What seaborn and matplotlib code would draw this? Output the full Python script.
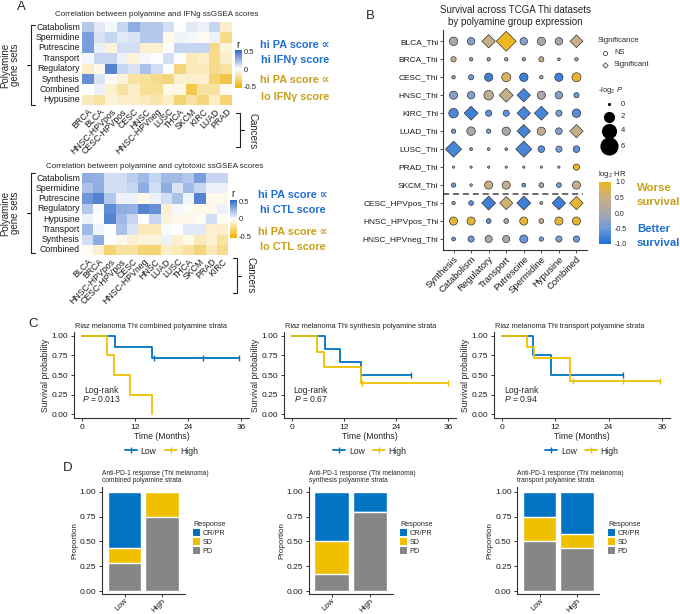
import numpy as np
import pandas as pd
import matplotlib
matplotlib.use("Agg")
import matplotlib.pyplot as plt
import seaborn as sns
from matplotlib.colors import LinearSegmentedColormap, Normalize
from matplotlib.cm import ScalarMappable
from matplotlib.lines import Line2D
from matplotlib.patches import Patch

sns.set_theme(style="ticks")
plt.rcParams["font.family"] = ["Liberation Sans", "DejaVu Sans"]
plt.rcParams["mathtext.fontset"] = "custom"
plt.rcParams["mathtext.rm"] = "Liberation Sans"
plt.rcParams["mathtext.it"] = "Liberation Sans:italic"
plt.rcParams["axes.unicode_minus"] = False

W, H = 680, 614
BLUE = "#0073C2"
GOLD = "#EFC000"
GREY = "#868686"
TXT_BLUE = "#1E6FD0"
TXT_GOLD = "#C9A014"

# ---- panel A data: correlation r values ----
ifng_rows = ["Catabolism", "Spermidine", "Putrescine", "Transport", "Regulatory",
             "Synthesis", "Combined", "Hypusine"]
ifng_cols = ["BRCA", "BLCA", "HNSC-HPVpos", "CESC-HPVpos", "CESC", "HNSC", "HNSC-HPVneg",
             "LUSC", "THCA", "SKCM", "KIRC", "LUAD", "PRAD"]
ifng_r = [
    [0.20, 0.08, 0.03, 0.15, 0.30, 0.20, 0.20, 0.12, 0.00, 0.08, 0.05, 0.15, -0.12],
    [0.35, 0.10, 0.15, 0.08, 0.10, 0.20, 0.20, -0.05, 0.04, 0.03, -0.03, 0.05, -0.25],
    [0.35, 0.06, -0.08, 0.12, 0.12, -0.10, -0.10, 0.00, 0.15, 0.15, 0.15, -0.25, -0.08],
    [0.03, 0.15, 0.15, 0.05, -0.08, 0.03, 0.00, 0.12, 0.00, -0.15, -0.12, -0.25, -0.12],
    [-0.12, -0.04, 0.45, 0.15, 0.10, 0.22, 0.12, 0.00, -0.28, -0.15, -0.15, -0.25, -0.20],
    [0.40, 0.10, -0.02, -0.08, -0.20, -0.22, -0.25, -0.28, -0.10, -0.12, -0.10, -0.30, -0.40],
    [0.00, 0.05, -0.10, -0.20, -0.12, -0.22, -0.22, -0.05, -0.05, -0.38, -0.20, -0.20, -0.03],
    [-0.15, -0.20, -0.08, -0.12, -0.12, -0.15, -0.18, -0.12, -0.30, -0.20, -0.28, -0.12, -0.30],
]

ctl_rows = ["Catabolism", "Spermidine", "Putrescine", "Regulatory", "Hypusine",
            "Transport", "Synthesis", "Combined"]
ctl_cols = ["BLCA", "BRCA", "HNSC-HPVpos", "CESC-HPVpos", "CESC", "HNSC-HPVneg", "HNSC",
            "LUAD", "LUSC", "THCA", "SKCM", "PRAD", "KIRC"]
ctl_r = [
    [0.30, 0.28, 0.12, 0.12, 0.18, 0.25, 0.15, 0.25, 0.25, 0.20, 0.35, 0.15, 0.15],
    [0.22, 0.30, 0.12, 0.12, 0.15, 0.30, 0.12, 0.30, 0.10, 0.25, 0.15, 0.05, 0.05],
    [0.38, 0.45, 0.20, 0.05, 0.05, -0.05, 0.05, 0.12, 0.22, 0.04, 0.45, -0.04, -0.04],
    [0.20, 0.02, 0.42, 0.30, 0.28, 0.45, 0.40, -0.10, 0.03, -0.03, -0.05, -0.04, 0.05],
    [0.05, 0.00, 0.45, 0.25, 0.15, 0.00, 0.15, -0.08, -0.05, -0.05, -0.03, 0.12, -0.03],
    [0.25, 0.04, 0.00, 0.22, 0.10, -0.15, -0.15, 0.02, 0.00, 0.08, 0.08, -0.10, -0.12],
    [0.12, 0.30, 0.00, -0.05, -0.10, -0.08, -0.08, 0.05, -0.10, -0.05, -0.15, -0.10, -0.20],
    [-0.02, -0.10, -0.30, -0.20, -0.20, -0.30, -0.30, -0.12, -0.15, -0.20, -0.28, -0.15, -0.25],
]

# ---- panel B data ----
cancers_b = ["BLCA_Thi", "BRCA_Thi", "CESC_Thi", "HNSC_Thi", "KIRC_Thi", "LUAD_Thi",
             "LUSC_Thi", "PRAD_Thi", "SKCM_Thi", "CESC_HPVpos_Thi", "HNSC_HPVpos_Thi",
             "HNSC_HPVneg_Thi"]
sets_b = ["Synthesis", "Catabolism", "Regulatory", "Transport", "Putrescine",
          "Spermidine", "Hypusine", "Combined"]
log2hr = [
    [0.05, -0.3, 0.45, 1.0, -0.3, 0.05, 0.0, 0.45],
    [0.5, -0.1, -0.1, -0.05, -0.2, 0.4, -0.1, -0.1],
    [-0.2, -0.5, -0.8, 0.7, -0.8, -0.1, -0.8, 0.9],
    [-0.3, -0.3, 0.35, 0.45, -0.75, 0.05, -0.3, -0.5],
    [-0.7, -0.8, -0.6, -0.6, -0.75, -0.75, -0.4, -0.65],
    [-0.4, 0.05, -0.4, 0.0, -0.75, 0.35, -0.3, 0.4],
    [-0.75, -0.3, -0.1, -0.1, -0.75, -0.6, -0.4, -0.6],
    [0.0, 0.0, 0.0, 0.0, 0.0, 0.0, 0.0, 0.95],
    [-0.5, 0.0, 0.5, 0.45, -0.5, 0.05, -0.5, 0.45],
    [-0.2, -0.6, -0.8, 0.6, -0.8, 0.0, -0.8, 0.9],
    [0.9, 0.9, -0.6, 0.05, 0.9, 0.4, 0.85, 0.9],
    [-0.4, -0.5, 0.05, 0.05, -0.55, -0.4, -0.3, -0.5],
]
neglog2p = [
    [1.5, 1.15, 2.4, 5.4, 1.15, 1.4, 1.15, 2.2],
    [0.53, 0.2, 0.2, 0.2, 0.2, 0.5, 0.1, 0.2],
    [0.2, 0.53, 1.4, 1.7, 1.5, 0.2, 1.4, 1.7],
    [1.36, 1.15, 1.9, 2.6, 2.4, 1.4, 1.15, 0.53],
    [1.9, 2.6, 0.77, 0.77, 2.4, 2.6, 0.77, 1.5],
    [0.35, 1.5, 0.35, 1.4, 2.4, 1.4, 0.9, 2.4],
    [3.5, 0.13, 0.1, 0.1, 3.5, 0.9, 0.77, 0.9],
    [0.05, 0.05, 0.05, 0.05, 0.05, 0.05, 0.05, 0.77],
    [0.35, 0.08, 1.36, 1.36, 0.26, 0.43, 0.43, 1.36],
    [0.2, 0.43, 2.6, 2.3, 2.6, 0.13, 2.4, 2.4],
    [1.36, 1.36, 0.43, 0.43, 1.36, 0.43, 1.36, 1.36],
    [0.26, 0.77, 1.04, 1.04, 1.36, 0.34, 0.77, 0.77],
]
significant = [
    [0, 0, 1, 1, 0, 0, 0, 1],
    [0, 0, 0, 0, 0, 0, 0, 0],
    [0, 0, 0, 0, 0, 0, 0, 0],
    [0, 0, 0, 1, 1, 0, 0, 0],
    [0, 1, 0, 0, 1, 1, 0, 0],
    [0, 0, 0, 0, 1, 0, 0, 1],
    [1, 0, 0, 0, 1, 0, 0, 0],
    [0, 0, 0, 0, 0, 0, 0, 0],
    [0, 0, 0, 0, 0, 0, 0, 0],
    [0, 0, 1, 1, 1, 0, 1, 1],
    [0, 0, 0, 0, 0, 0, 0, 0],
    [0, 0, 0, 0, 0, 0, 0, 0],
]
size_legend_vals = [0, 2, 4, 6]

# ---- panel C data: Kaplan-Meier steps (months, survival) ----
km_titles = ["Riaz melanoma Thi combined polyamine strata",
             "Riaz melanoma Thi synthesis polyamine strata",
             "Riaz melanoma Thi transport polyamine strata"]
low_t = [[0, 7.5, 15.8, 35.5], [0, 7.6, 11.0, 15.9, 27.5], [0, 7.0, 11.0, 27.3]]
low_s = [[1, 0.857, 0.714, 0.714], [1, 0.833, 0.667, 0.5, 0.5], [1, 0.75, 0.5, 0.5]]
low_cens = [[16.2, 27.4, 35.5], [27.5], [27.3]]
high_t = [[0, 5.7, 7.3, 10.9, 15.8], [0, 5.7, 7.4, 15.9, 36.0], [0, 5.6, 7.2, 15.4, 35.5]]
high_s = [[1, 0.75, 0.5, 0.25, 0.0], [1, 0.8, 0.6, 0.4, 0.4], [1, 0.857, 0.714, 0.429, 0.429]]
high_cens = [[], [16.2, 36.0], [16.0, 27.2, 35.5]]
logrank_p = ["0.013", "0.67", "0.94"]

# ---- panel D data: response proportions (Low, High) ----
d_titles = ["Anti-PD-1 response (Thi melanoma)\ncombined polyamine strata",
            "Anti-PD-1 response (Thi melanoma)\nsynthesis polyamine strata",
            "Anti-PD-1 response (Thi melanoma)\ntransport polyamine strata"]
groups = ["Low", "High"]
resp_pd = [[0.286, 0.75], [0.167, 0.80], [0.50, 0.429]]
resp_sd = [[0.143, 0.25], [0.333, 0.0], [0.25, 0.143]]
resp_cr = [[0.571, 0.0], [0.50, 0.20], [0.25, 0.429]]

heat_cmap = LinearSegmentedColormap.from_list("hm", ["#EDB000", "#FFFFFF", "#2F68C6"])
hr_cmap = LinearSegmentedColormap.from_list(
    "hr", [(0, "#1F6FD2"), (0.25, "#6E9BDA"), (0.5, "#A8A8AC"), (0.75, "#C9AF84"), (1, "#EDB720")])

fig = plt.figure(figsize=(6.8, 6.14), dpi=100)


def box(x0, y0, x1, y1):
    return fig.add_axes([x0 / W, 1 - y1 / H, (x1 - x0) / W, (y1 - y0) / H])


ov = fig.add_axes([0, 0, 1, 1], zorder=10)
ov.set_xlim(0, W)
ov.set_ylim(H, 0)
ov.axis("off")


def bracket(x, y0, y1, side):
    # side=+1: end ticks point right, middle tick left; -1 the reverse
    ym = (y0 + y1) / 2
    kw = dict(color="#222222", lw=0.8)
    ov.plot([x, x], [y0, y1], **kw)
    ov.plot([x, x + 4 * side], [y0, y0], **kw)
    ov.plot([x, x + 4 * side], [y1, y1], **kw)
    ov.plot([x, x - 4 * side], [ym, ym], **kw)


# ================= Panel A =================
def draw_heat(ax, cax, vals, rows, cols):
    df = pd.DataFrame(vals, index=rows, columns=cols)
    sns.heatmap(df, ax=ax, cbar_ax=cax, cmap=heat_cmap, vmin=-0.55, vmax=0.55,
                xticklabels=True, yticklabels=True, cbar_kws={"ticks": [-0.5, 0, 0.5]})
    ax.tick_params(length=0, pad=1.5)
    ax.set_xticklabels(cols, rotation=45, ha="right", rotation_mode="anchor",
                       fontsize=6.3, color="#1A1A1A")
    ax.set_yticklabels(rows, rotation=0, fontsize=6.3, color="#1A1A1A")
    ax.set_xlabel("")
    ax.set_ylabel("")
    cax.tick_params(length=0, labelsize=5.5, pad=1.5)
    cax.set_yticklabels(["-0.5", "0", "0.5"])
    ax.collections[0].colorbar.outline.set_visible(False)


h1 = box(82, 22, 232, 105)
c1 = box(235, 50, 242, 88)
draw_heat(h1, c1, ifng_r, ifng_rows, ifng_cols)
h2 = box(82, 173, 228, 255)
c2 = box(230, 200, 237, 238)
draw_heat(h2, c2, ctl_r, ctl_rows, ctl_cols)

ov.text(21, 7, "A", fontsize=9.5, ha="center", va="center")
ov.text(157, 15, "Correlation between polyamine and IFNg ssGSEA scores",
        fontsize=5.8, ha="center", va="center")
ov.text(155, 166, "Correlation between polyamine and cytotoxic ssGSEA scores",
        fontsize=5.8, ha="center", va="center")
ov.text(238, 45, "r", fontsize=7, ha="center", va="center")
ov.text(233, 194, "r", fontsize=7, ha="center", va="center")

for (yy, s, c) in [(45, "hi PA score \u221d", TXT_BLUE), (60, "hi IFN\u03b3 score", TXT_BLUE),
                   (80, "hi PA score \u221d", TXT_GOLD), (97, "lo IFN\u03b3 score", TXT_GOLD)]:
    ov.text(295, yy, s, fontsize=7.8, fontweight="bold", color=c, ha="center", va="center")
for (yy, s, c) in [(195, "hi PA score \u221d", TXT_BLUE), (210, "hi CTL score", TXT_BLUE),
                   (232, "hi PA score \u221d", TXT_GOLD), (247, "lo CTL score", TXT_GOLD)]:
    ov.text(293, yy, s, fontsize=7.8, fontweight="bold", color=c, ha="center", va="center")

bracket(31, 25, 105, 1)
bracket(31, 173, 253, 1)
ov.text(10, 65, "Polyamine\ngene sets", rotation=90, fontsize=7, ha="center", va="center",
        linespacing=1.0)
ov.text(10, 213, "Polyamine\ngene sets", rotation=90, fontsize=7, ha="center", va="center",
        linespacing=1.0)
bracket(240, 113, 147, -1)
bracket(237, 258, 293, -1)
ov.text(253, 131, "Cancers", rotation=270, fontsize=7, ha="center", va="center")
ov.text(250, 275, "Cancers", rotation=270, fontsize=7, ha="center", va="center")

# ================= Panel B =================
recs = []
for i, cn in enumerate(cancers_b):
    for j, st in enumerate(sets_b):
        sig = "Significant" if significant[i][j] else "NS"
        area = 1.5 + 24 * neglog2p[i][j]
        if sig == "Significant":
            area *= np.pi / 4
        recs.append(dict(cancer=cn, gset=st, hr=log2hr[i][j], area=area, sig=sig))
dfb = pd.DataFrame(recs)

axb = box(443, 30.5, 587, 249.8)
amin, amax = dfb["area"].min(), dfb["area"].max()
sns.scatterplot(data=dfb, x="gset", y="cancer", hue="hr", palette=hr_cmap, hue_norm=(-1, 1),
                size="area", sizes=(amin, amax), size_norm=(amin, amax),
                style="sig", markers={"NS": "o", "Significant": "D"},
                edgecolor="#262626", linewidth=0.45, legend=False, ax=axb, zorder=3)
axb.set_xlim(-0.6, len(sets_b) - 0.4)
axb.set_ylim(len(cancers_b) - 0.4, -0.6)
axb.set_xticks(range(len(sets_b)))
axb.set_xticklabels(sets_b, rotation=45, ha="right", rotation_mode="anchor", fontsize=6.8)
axb.set_yticks(range(len(cancers_b)))
axb.set_yticklabels(cancers_b, fontsize=6)
axb.set_xlabel("")
axb.set_ylabel("")
axb.axhline(8.5, xmin=0, xmax=0.97, color="#444444", lw=1.1, ls=(0, (4, 2.5)))
sns.despine(ax=axb)
for sp in ["left", "bottom"]:
    axb.spines[sp].set_linewidth(0.8)
    axb.spines[sp].set_color("#333333")
axb.tick_params(length=2, width=0.6, color="#333333", pad=1.5, labelcolor="#1A1A1A")

ov.text(370, 16, "B", fontsize=9.5, ha="center", va="center")
ov.text(515, 16, "Survival across TCGA Thi datasets\nby polyamine group expression",
        fontsize=7, ha="center", va="center")

ov.text(598, 40, "Significance", fontsize=5.5, ha="left", va="center")
ov.scatter([605], [53], s=9, marker="o", facecolor="white", edgecolor="#222222", lw=0.5)
ov.scatter([605], [65], s=9 * np.pi / 4, marker="D", facecolor="white", edgecolor="#222222", lw=0.5)
ov.text(614, 53, "NS", fontsize=5.5, ha="left", va="center")
ov.text(614, 65, "Significant", fontsize=5.5, ha="left", va="center")
ov.text(598, 90, "-log$_2$ $P$", fontsize=5.5, ha="left", va="center")
for v, yy in zip(size_legend_vals, [104, 117, 131, 146]):
    ov.scatter([609], [yy], s=1.5 + 24 * v, color="black")
    ov.text(621, yy, str(v), fontsize=5.5, ha="left", va="center")

cb_ax = box(599, 182, 611, 244)
cb = fig.colorbar(ScalarMappable(norm=Normalize(-1, 1), cmap=hr_cmap), cax=cb_ax,
                  ticks=[-1, -0.5, 0, 0.5, 1])
cb.outline.set_visible(False)
cb_ax.set_yticklabels(["-1.0", "-0.5", "0.0", "0.5", "1.0"])
cb_ax.tick_params(length=0, labelsize=5, pad=3)
ov.text(598, 175, "log$_2$ HR", fontsize=5.5, ha="left", va="center")
ov.text(637, 188, "Worse", fontsize=8.2, fontweight="bold", color=TXT_GOLD, va="center")
ov.text(637, 202, "survival", fontsize=8.2, fontweight="bold", color=TXT_GOLD, va="center")
ov.text(637, 229, "Better", fontsize=8.2, fontweight="bold", color=TXT_BLUE, va="center")
ov.text(637, 243, "survival", fontsize=8.2, fontweight="bold", color=TXT_BLUE, va="center")


# ================= Panel C =================
def style_axis(ax):
    sns.despine(ax=ax)
    for sp in ["left", "bottom"]:
        ax.spines[sp].set_linewidth(0.8)
        ax.spines[sp].set_color("#333333")
    ax.tick_params(length=2.5, width=0.7, color="#333333", labelsize=6, pad=1.5,
                   labelcolor="#1A1A1A")


def step_value(t, s, x):
    return s[np.searchsorted(t, x, side="right") - 1]


c_boxes = [(74, 332, 249, 418), (284, 332, 456, 418), (494, 332, 670, 418)]
for k, bx in enumerate(c_boxes):
    ax = box(*bx)
    for tt, ss, cc, col in [(low_t[k], low_s[k], low_cens[k], BLUE),
                            (high_t[k], high_s[k], high_cens[k], GOLD)]:
        sns.lineplot(x=tt, y=ss, drawstyle="steps-post", estimator=None, color=col,
                     lw=1.3, ax=ax)
        if cc:
            ax.plot(cc, [step_value(tt, ss, c) for c in cc], ls="none", marker="|",
                    ms=4, mew=1.0, color=col)
    ax.set_xlim(-1.8, 37.8)
    ax.set_ylim(-0.05, 1.05)
    ax.set_xticks([0, 12, 24, 36])
    ax.set_yticks([0, 0.25, 0.5, 0.75, 1.0])
    ax.set_yticklabels(["0.00", "0.25", "0.50", "0.75", "1.00"])
    ax.set_xlabel("Time (Months)", fontsize=6.2, labelpad=1)
    ax.set_ylabel("Survival probability", fontsize=6.2, labelpad=1)
    style_axis(ax)
    ax.text(4.3, 0.245, "Log-rank\n$P$ = " + logrank_p[k], fontsize=6.2, ha="center",
            va="center", linespacing=0.9)
    ov.text(bx[0] + 1, 326, km_titles[k], fontsize=5.3, ha="left", va="center")
    handles = [Line2D([], [], color=BLUE, lw=1.3, marker="|", ms=4),
               Line2D([], [], color=GOLD, lw=1.3, marker="|", ms=4)]
    ax.legend(handles, groups, loc="center", ncol=2, frameon=False, fontsize=6.2,
              bbox_to_anchor=((bx[0] + bx[2]) / 2 / W, 1 - 451 / H),
              bbox_transform=fig.transFigure, handlelength=1.4, handletextpad=0.4,
              columnspacing=1.0)
ov.text(33, 324, "C", fontsize=9.5, ha="center", va="center")

# ================= Panel D =================
d_boxes = [(102, 487, 184.5, 593.5), (308.6, 487, 392.6, 593.5), (517.3, 487, 599.4, 593.5)]
leg_x = [193, 400, 608]
for k, bx in enumerate(d_boxes):
    ax = box(*bx)
    pdv = np.array(resp_pd[k])
    sdv = np.array(resp_sd[k])
    crv = np.array(resp_cr[k])
    sns.barplot(x=groups, y=pdv + sdv + crv, color=BLUE, width=0.9, saturation=1,
                errorbar=None, ax=ax)
    sns.barplot(x=groups, y=pdv + sdv, color=GOLD, width=0.9, saturation=1,
                errorbar=None, ax=ax)
    sns.barplot(x=groups, y=pdv, color=GREY, width=0.9, saturation=1,
                errorbar=None, ax=ax)
    ax.set_xlim(-0.6, 1.6)
    ax.set_ylim(-0.025, 1.047)
    ax.set_yticks([0, 0.25, 0.5, 0.75, 1.0])
    ax.set_yticklabels(["0.00", "0.25", "0.50", "0.75", "1.00"])
    ax.set_xticks([0, 1])
    ax.set_xticklabels(groups, rotation=45, ha="right", rotation_mode="anchor")
    ax.set_ylabel("Proportion", fontsize=5.8, labelpad=1)
    ax.set_xlabel("")
    style_axis(ax)
    ax.tick_params(axis="x", length=2, pad=0.8, labelsize=5.8)
    ov.text(bx[0], 476.7, d_titles[k], fontsize=4.8, ha="left", va="center",
            linespacing=1.0)
    handles = [Patch(facecolor=BLUE, edgecolor="none"), Patch(facecolor=GOLD, edgecolor="none"),
               Patch(facecolor=GREY, edgecolor="none")]
    ax.legend(handles, ["CR/PR", "SD", "PD"], title="Response", loc="upper left",
              bbox_to_anchor=(leg_x[k] / W, 1 - 521 / H), bbox_transform=fig.transFigure,
              frameon=False, fontsize=5.2, title_fontsize=5.2, handlelength=0.95,
              handleheight=1.1, labelspacing=0.15, handletextpad=0.4, borderpad=0,
              borderaxespad=0, alignment="left")
ov.text(68, 468, "D", fontsize=9.5, ha="center", va="center")

fig.savefig("out.png", dpi=100)
